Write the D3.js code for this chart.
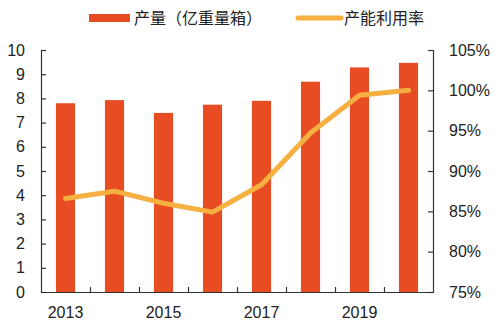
<!DOCTYPE html>
<html><head><meta charset="utf-8">
<script src="https://cdn.jsdelivr.net/npm/d3@7"></script>
<style>body{margin:0;background:#fff;}svg{display:block;font-family:"Liberation Sans",Arial,sans-serif;}</style>
</head><body>
<svg id="c" width="494" height="326"></svg>
<script>
const years = ["2013","2014","2015","2016","2017","2018","2019","2020"];
const output = [7.8, 7.93, 7.4, 7.74, 7.9, 8.69, 9.28, 9.47];
const utilization = [86.6, 87.5, 86.0, 84.9, 88.3, 94.7, 99.4, 100.0];
const xTickLabels = ["2013","2015","2017","2019"];
const leftTicks = [0,1,2,3,4,5,6,7,8,9,10];
const rightTicks = [75,80,85,90,95,100,105];
const legendLabels = ["产量（亿重量箱）","产能利用率"];

const svg = d3.select("#c");
const L = 41, R = 433, T = 50, B = 292;
const barColor = "#E84C22", lineColor = "#F5B041", axisColor = "#333";

const x = d3.scaleBand().domain(years).range([L, R]).paddingInner(0).paddingOuter(0);
const y = d3.scaleLinear().domain([0, 10]).range([B, T]);
const y2 = d3.scaleLinear().domain([75, 105]).range([B, T]);

// bars
const bw = x.bandwidth() * 0.39;
svg.append("g").selectAll("rect").data(years).join("rect")
  .attr("x", (d) => x(d) + x.bandwidth()/2 - bw/2)
  .attr("y", (d,i) => y(output[i]))
  .attr("width", bw)
  .attr("height", (d,i) => B - y(output[i]))
  .attr("fill", barColor);

// line
const line = d3.line().x((d,i) => x(years[i]) + x.bandwidth()/2).y(d => y2(d));
svg.append("path").datum(utilization).attr("d", line)
  .attr("fill", "none").attr("stroke", lineColor).attr("stroke-width", 5)
  .attr("stroke-linejoin", "round").attr("stroke-linecap", "round");

// left axis
const la = svg.append("g").attr("transform", `translate(${L},0)`)
  .call(d3.axisLeft(y).tickValues(leftTicks).tickSizeInner(-5).tickSizeOuter(-5).tickPadding(16));
// right axis
const ra = svg.append("g").attr("transform", `translate(${R},0)`)
  .call(d3.axisRight(y2).tickValues(rightTicks).tickFormat(d => d + "%").tickSizeInner(-5).tickSizeOuter(-5).tickPadding(16));
// bottom axis
const xb = d3.scaleLinear().domain([0, years.length]).range([L, R]);
const ba = svg.append("g").attr("transform", `translate(0,${B})`)
  .call(d3.axisBottom(xb).tickValues(d3.range(1, years.length)).tickSizeInner(-5).tickSizeOuter(0).tickFormat(""));
svg.append("g").selectAll("text").data(xTickLabels).join("text")
  .attr("x", d => x(d) + x.bandwidth()/2).attr("y", 318)
  .attr("text-anchor", "middle").attr("font-size", 16).attr("fill", "#222").text(d => d);

[la, ra, ba].forEach(g => {
  g.selectAll("path,line").attr("stroke", axisColor).attr("stroke-width", 1.2);
  g.selectAll("text").attr("font-size", 16).attr("fill", "#222").attr("font-family", "Liberation Sans, Arial, sans-serif");
});

// legend
const lg = svg.append("g");
lg.append("rect").attr("x", 89).attr("y", 14).attr("width", 41).attr("height", 8).attr("fill", barColor);
lg.append("text").attr("x", 134).attr("y", 24).attr("font-size", 16).attr("fill", "#222")
  .attr("font-family", "Noto Sans CJK SC, sans-serif").text(legendLabels[0]);
lg.append("line").attr("x1", 298).attr("x2", 341).attr("y1", 18).attr("y2", 18)
  .attr("stroke", lineColor).attr("stroke-width", 5).attr("stroke-linecap", "round");
lg.append("text").attr("x", 344).attr("y", 24).attr("font-size", 16).attr("fill", "#222")
  .attr("font-family", "Noto Sans CJK SC, sans-serif").text(legendLabels[1]);
</script>
</body></html>
